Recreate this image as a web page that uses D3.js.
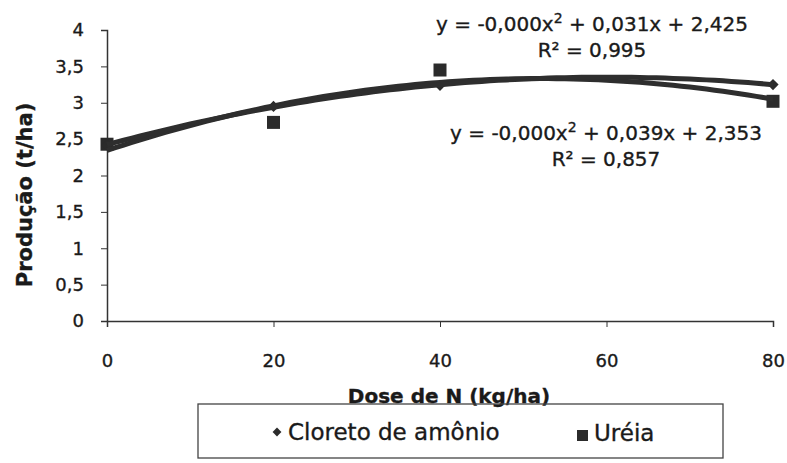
<!DOCTYPE html>
<html>
<head>
<meta charset="utf-8">
<script src="https://cdn.jsdelivr.net/npm/d3@7"></script>
<style>
  body { margin: 0; background: #fff; }
  text { font-family: "DejaVu Sans", "Liberation Sans", Arial, sans-serif; fill: #1a1a1a;
         stroke: #1a1a1a; stroke-width: 0.35px; }
</style>
</head>
<body>
<div id="chart"></div>
<script>
// doses (kg/ha) and yields (t/ha)
const doses = [0, 20, 40, 80];
const cloreto = [2.42, 2.95, 3.24, 3.25];
const ureia = [2.43, 2.73, 3.45, 3.02];
const yTicks = [0, 0.5, 1, 1.5, 2, 2.5, 3, 3.5, 4];
const xTicks = [0, 20, 40, 60, 80];
const eqCloreto = ['y = -0,000x', ' + 0,031x + 2,425', 'R² = 0,995'];
const eqUreia = ['y = -0,000x', ' + 0,039x + 2,353', 'R² = 0,857'];

var W = 787, H = 463;
var svg = d3.select('#chart').append('svg')
    .attr('width', W).attr('height', H);

var x = d3.scaleLinear().domain([0, 80]).range([107, 773]);
var y = d3.scaleLinear().domain([0, 4]).range([321, 30]);

// y axis
var yAxis = svg.append('g')
    .attr('transform', 'translate(107,0)')
    .call(d3.axisLeft(y).tickValues(yTicks).tickSize(6).tickPadding(17)
        .tickFormat(d => String(d).replace('.', ',')));
yAxis.select('.domain').attr('stroke', '#333').attr('stroke-width', 1.5);
yAxis.selectAll('.tick line').attr('stroke', '#333');
yAxis.selectAll('text').style('font-size', '18px').attr('fill', '#1a1a1a')
    .style('font-family', '"DejaVu Sans", sans-serif');

// x axis
var xAxis = svg.append('g')
    .attr('transform', 'translate(0,321)')
    .call(d3.axisBottom(x).tickValues(xTicks).tickSize(6).tickPadding(27));
xAxis.select('.domain').attr('stroke', '#333').attr('stroke-width', 1.5);
xAxis.selectAll('.tick line').attr('stroke', '#333');
xAxis.selectAll('text').style('font-size', '18px').attr('fill', '#1a1a1a')
    .style('font-family', '"DejaVu Sans", sans-serif');

// axis titles
svg.append('text')
    .attr('transform', 'translate(32,195) rotate(-90)')
    .attr('text-anchor', 'middle')
    .style('font-size', '21px').style('font-weight', 'bold')
    .text('Produção (t/ha)');
svg.append('text')
    .attr('x', 449).attr('y', 403)
    .attr('text-anchor', 'middle')
    .style('font-size', '20px').style('font-weight', 'bold')
    .text('Dose de N (kg/ha)');

/**
Least squares fit of a 2nd order polynomial, like the spreadsheet trendline.
*/
function polyFit(xs, ys){
    let s = [0, 0, 0, 0, 0], t = [0, 0, 0];
    xs.forEach((xv, i) => {
        for (let k = 0; k < 5; k++) s[k] += Math.pow(xv, k);
        for (let k = 0; k < 3; k++) t[k] += ys[i] * Math.pow(xv, k);
    });
    let m = [[s[0], s[1], s[2], t[0]], [s[1], s[2], s[3], t[1]], [s[2], s[3], s[4], t[2]]];
    for (let i = 0; i < 3; i++){
        for (let j = i + 1; j < 3; j++){
            let f = m[j][i] / m[i][i];
            for (let k = i; k < 4; k++) m[j][k] -= f * m[i][k];
        }
    }
    let c = [0, 0, 0];
    for (let i = 2; i >= 0; i--){
        let v = m[i][3];
        for (let k = i + 1; k < 3; k++) v -= m[i][k] * c[k];
        c[i] = v / m[i][i];
    }
    return c;
}

function trendPoints(vals){
    let c = polyFit(doses, vals);
    return d3.range(0, 80.5, 1).map(d => [d, c[0] + c[1] * d + c[2] * d * d]);
}

var line = d3.line().x(d => x(d[0])).y(d => y(d[1]));

// markers
svg.selectAll('.sq')
    .data(doses.map((d, i) => [d, ureia[i]]))
    .enter()
    .append('rect')
        .attr('x', d => x(d[0]) - 6.5)
        .attr('y', d => y(d[1]) - 6.5)
        .attr('width', 13).attr('height', 13)
        .attr('fill', '#2b2b2b');
svg.selectAll('.dm')
    .data(doses.map((d, i) => [d, cloreto[i]]))
    .enter()
    .append('path')
        .attr('d', d3.symbol(d3.symbolDiamond2, 80))
        .attr('transform', d => 'translate(' + x(d[0]) + ',' + y(d[1]) + ')')
        .attr('fill', '#2b2b2b');

// trend lines
[ureia, cloreto].forEach(vals => {
    svg.append('path')
        .attr('d', line(trendPoints(vals)))
        .attr('fill', 'none')
        .attr('stroke', '#2e2e2e')
        .attr('stroke-width', 5)
        .attr('stroke-linejoin', 'round');
});

// equations
function equation(eq, cx, yb){
    let t = svg.append('text')
        .attr('x', cx).attr('y', yb)
        .attr('text-anchor', 'middle')
        .style('font-size', '20px');
    t.append('tspan').text(eq[0]);
    t.append('tspan').attr('dy', -8).style('font-size', '14px').text('2');
    t.append('tspan').attr('dy', 8).text(eq[1]);
    svg.append('text')
        .attr('x', cx).attr('y', yb + 26)
        .attr('text-anchor', 'middle')
        .style('font-size', '20px')
        .text(eq[2]);
}
equation(eqCloreto, 592, 31);
equation(eqUreia, 606, 140);

// legend
svg.append('rect')
    .attr('x', 198).attr('y', 404)
    .attr('width', 525).attr('height', 54)
    .attr('fill', 'none')
    .attr('stroke', '#444').attr('stroke-width', 1.3);
svg.append('path')
    .attr('d', d3.symbol(d3.symbolDiamond2, 50))
    .attr('transform', 'translate(277,432)')
    .attr('fill', '#2b2b2b');
svg.append('text')
    .attr('x', 288).attr('y', 440)
    .style('font-size', '23px')
    .text('Cloreto de amônio');
svg.append('rect')
    .attr('x', 577).attr('y', 430)
    .attr('width', 11).attr('height', 11)
    .attr('fill', '#2b2b2b');
svg.append('text')
    .attr('x', 594).attr('y', 441)
    .style('font-size', '23px')
    .text('Uréia');
</script>
</body>
</html>
